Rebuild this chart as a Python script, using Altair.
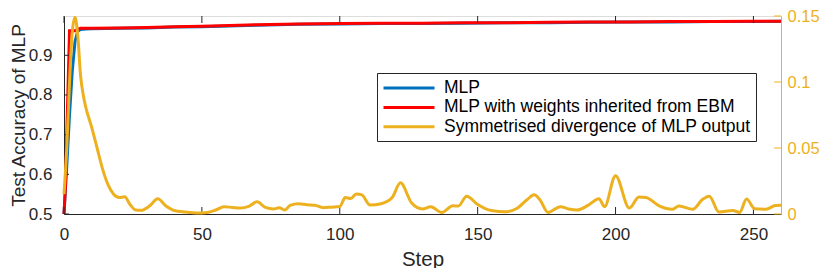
import altair as alt
import pandas as pd

# ---- data ----
series_names = ["MLP", "MLP with weights inherited from EBM", "Symmetrised divergence of MLP output"]
series_colors = ["#0072BD", "#FF0000", "#EDB120"]

mlp_steps = [0, 1, 2, 3, 4, 5, 6, 8, 10, 20, 30, 40, 50, 60, 70, 85, 100, 115, 130, 145, 160, 176, 190, 205, 220, 235, 250, 260]
mlp_acc = [0.5, 0.62, 0.75, 0.86, 0.935, 0.961, 0.965, 0.966, 0.967, 0.968, 0.969, 0.971, 0.972, 0.974, 0.976, 0.978, 0.979, 0.980, 0.980, 0.981, 0.982, 0.982, 0.983, 0.984, 0.984, 0.985, 0.985, 0.986]

inh_steps = [0, 0.5, 2, 4, 5, 6, 8, 10, 20, 30, 40, 50, 60, 70, 85, 100, 115, 130, 145, 160, 176, 190, 205, 220, 235, 250, 260]
inh_acc = [0.5, 0.565, 0.962, 0.962, 0.966, 0.968, 0.968, 0.968, 0.969, 0.970, 0.972, 0.973, 0.975, 0.977, 0.979, 0.980, 0.981, 0.981, 0.982, 0.982, 0.983, 0.984, 0.984, 0.985, 0.985, 0.986, 0.986]

div_steps = [0, 1, 2, 3, 4, 5, 6, 7, 8, 10, 12, 14, 16, 18, 20, 22, 24, 26, 28, 31, 34, 37, 40, 44, 48, 52, 55, 58, 61, 64, 67, 70, 73, 76, 78, 80, 82, 85, 88, 91, 94, 97, 100, 102, 104, 106, 108, 111, 115, 119, 122, 126, 130, 133, 137, 141, 143, 146, 150, 155, 160, 164, 168, 170.5, 172.5, 175.5, 180, 183, 186, 190, 194, 196, 200, 205, 208.5, 211, 216, 220.5, 223, 228, 231.5, 234, 237.5, 242.5, 245, 247.5, 250.5, 254.5, 258, 260]
div_vals = [0.015, 0.05, 0.1, 0.138, 0.149, 0.135, 0.105, 0.09, 0.08, 0.066, 0.05, 0.034, 0.022, 0.015, 0.0125, 0.013, 0.007, 0.003, 0.0028, 0.006, 0.0115, 0.006, 0.0026, 0.0015, 0.0008, 0.0012, 0.003, 0.0055, 0.005, 0.0045, 0.0058, 0.0092, 0.005, 0.0038, 0.0048, 0.003, 0.0065, 0.0077, 0.007, 0.0066, 0.0048, 0.0052, 0.0056, 0.0125, 0.0118, 0.0152, 0.0145, 0.0068, 0.0078, 0.0125, 0.0236, 0.0085, 0.0038, 0.0055, 0.0012, 0.0062, 0.006, 0.0135, 0.0072, 0.0026, 0.0017, 0.004, 0.011, 0.0145, 0.011, 0.0012, 0.0055, 0.0038, 0.003, 0.0065, 0.0116, 0.0055, 0.029, 0.0045, 0.0128, 0.0125, 0.006, 0.0036, 0.006, 0.0036, 0.011, 0.0135, 0.0015, 0.0026, 0.0012, 0.0113, 0.004, 0.0036, 0.0065, 0.0067]

x_ticks = [0, 50, 100, 150, 200, 250]
left_ticks = [0.5, 0.6, 0.7, 0.8, 0.9]
right_ticks = [0, 0.05, 0.1, 0.15]
right_tick_labels = ["0", "0.05", "0.1", "0.15"]

# ---- tables ----
mlp_df = pd.DataFrame({"step": mlp_steps, "value": mlp_acc, "series": series_names[0]})
inh_df = pd.DataFrame({"step": inh_steps, "value": inh_acc, "series": series_names[1]})
div_df = pd.DataFrame({"step": div_steps, "value": div_vals, "series": series_names[2]})
xt_df = pd.DataFrame({"step": x_ticks})
lt_df = pd.DataFrame({"value": left_ticks})
rt_df = pd.DataFrame({"value": right_ticks})

W, H = 717, 198
DARK = "#262626"
ORANGE = "#EDB120"
FONT = "Liberation Sans"

x_scale = alt.Scale(domain=[0, 260], nice=False, zero=False)
left_scale = alt.Scale(domain=[0.5, 0.999], nice=False, zero=False)
right_scale = alt.Scale(domain=[0, 0.15], nice=False, zero=False)
color_scale = alt.Scale(domain=series_names, range=series_colors)

# custom stroke symbol: long line to the right of a small layout box
legend = alt.Legend(
    title=None, orient="none", legendX=313, legendY=57,
    symbolType="M-1,0H5", symbolSize=289, symbolStrokeWidth=3,
    symbolFillColor="transparent",
    labelFontSize=17.5, labelFont=FONT, labelColor="#000000", labelLimit=0,
    labelOffset=42, strokeColor=DARK, fillColor="white", padding=5,
    rowPadding=0.4, offset=0,
)

x_axis = alt.Axis(values=x_ticks, title="Step", ticks=False, grid=False, labelFlush=False,
                  labelFontSize=17, titleFontSize=20.5, labelPadding=12, titlePadding=7,
                  domainColor=DARK, labelColor=DARK, titleColor=DARK,
                  titleFontWeight="normal", labelFont=FONT, titleFont=FONT)

left_axis = alt.Axis(values=left_ticks, format=".1f", title="Test Accuracy of MLP",
                     ticks=False, grid=False, labelFontSize=17, titleFontSize=19,
                     labelPadding=12, titlePadding=0, domainColor=DARK,
                     labelColor=DARK, titleColor=DARK, titleFontWeight="normal",
                     labelFont=FONT, titleFont=FONT)

label_expr = " : ".join(
    f"datum.value == {v} ? '{t}'" for v, t in zip(right_ticks, right_tick_labels)
) + " : ''"
right_axis = alt.Axis(values=right_ticks, labelExpr=label_expr, title=None, orient="right",
                      ticks=False, grid=False, labelFontSize=16.5, labelPadding=6,
                      labelFlush=False, labelOverlap=False, labelLimit=0,
                      domainColor=ORANGE, labelColor=ORANGE, labelFont=FONT)

X = alt.X("step:Q", scale=x_scale, axis=x_axis)
YL = alt.Y("value:Q", scale=left_scale, axis=left_axis)
YR = alt.Y("value:Q", scale=right_scale, axis=right_axis)
C = alt.Color("series:N", scale=color_scale, legend=legend)

mlp_line = alt.Chart(mlp_df).mark_line(strokeWidth=3).encode(x=X, y=YL, color=C)
inh_line = alt.Chart(inh_df).mark_line(strokeWidth=3).encode(x=X, y=YL, color=C)
bottom_ticks = alt.Chart(xt_df).mark_rule(color=DARK, strokeWidth=1).encode(
    x=X, y=alt.value(H), y2=alt.value(H - 7))
top_ticks = alt.Chart(xt_df).mark_rule(color=DARK, strokeWidth=1).encode(
    x=X, y=alt.value(0), y2=alt.value(7))
left_tick_marks = alt.Chart(lt_df).mark_rule(color=DARK, strokeWidth=1).encode(
    y=YL, x=alt.value(0), x2=alt.value(5))

left_layer = alt.layer(mlp_line, inh_line, bottom_ticks, top_ticks, left_tick_marks)

div_line = alt.Chart(div_df).mark_line(strokeWidth=3, interpolate="monotone").encode(
    x=X, y=YR, color=C)
right_tick_marks = alt.Chart(rt_df).mark_rule(color=ORANGE, strokeWidth=1).encode(
    y=YR, x=alt.value(W - 7), x2=alt.value(W))

right_layer = alt.layer(div_line, right_tick_marks)

chart = alt.layer(left_layer, right_layer).resolve_scale(y="independent").properties(
    width=W, height=H,
    padding={"left": 56, "top": 8, "right": 41, "bottom": 54},
    autosize=alt.AutoSizeParams(type="none"),
).configure_view(stroke=DARK, strokeWidth=1).configure(font=FONT)

chart.save("out.html", embed_options={"renderer": "svg", "actions": False})
